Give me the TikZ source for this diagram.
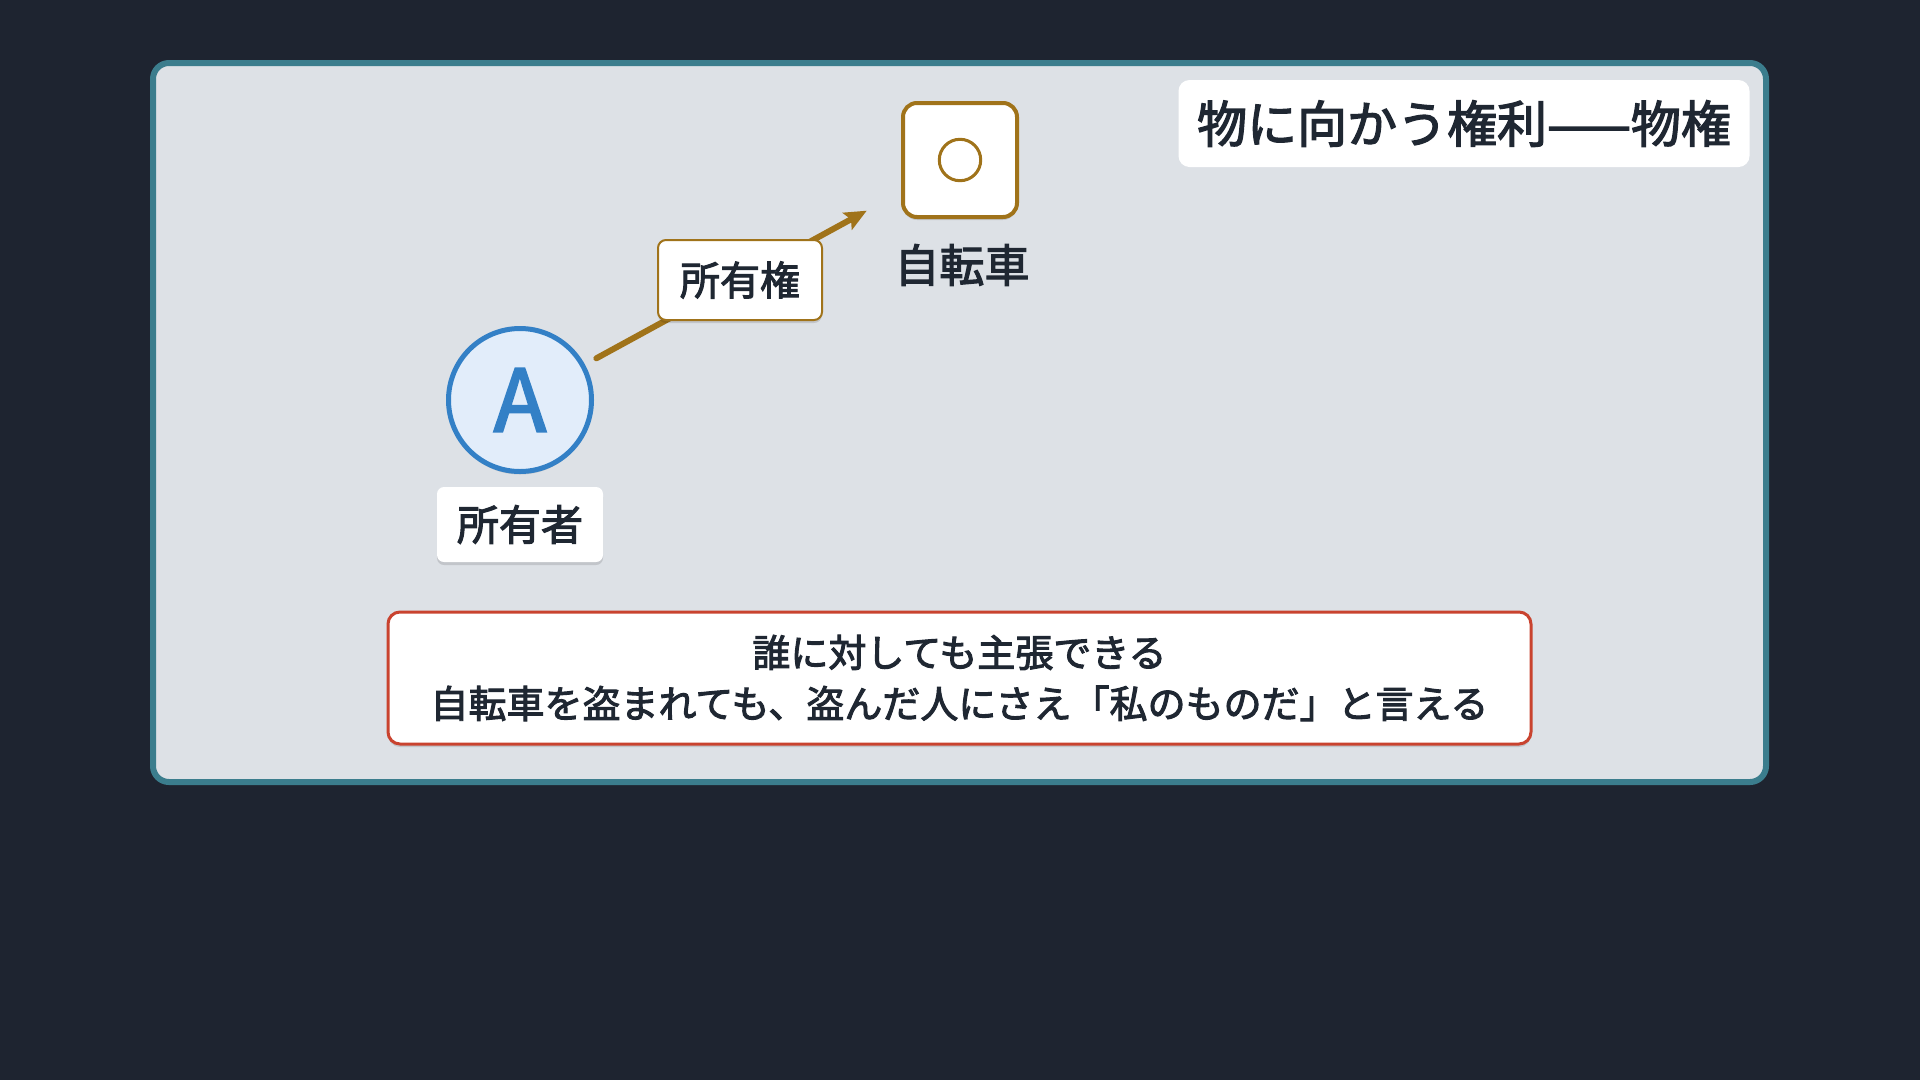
\documentclass[tikz,border=0pt]{standalone}
\usepackage{fontspec}
\setmainfont{Noto Sans CJK JP}[FakeBold=2.6]
\usetikzlibrary{arrows.meta,shadows,calc}
\definecolor{bgdark}{HTML}{1E2430}
\definecolor{panelfill}{HTML}{DDE1E6}
\definecolor{panelborder}{HTML}{3B7D8D}
\definecolor{txt}{HTML}{1F2732}
\definecolor{gold}{HTML}{A0731A}
\definecolor{blueA}{HTML}{3380C6}
\definecolor{bluefill}{HTML}{E2EDFA}
\definecolor{redb}{HTML}{C9432F}
\tikzset{
  softshadow/.style={drop shadow={shadow xshift=0pt,shadow yshift=-3pt,opacity=0.12,fill=black}},
  panel/.style={draw=panelborder,fill=panelfill,line width=6pt,rounded corners=16pt},
  ownercircle/.style={circle,draw=blueA,fill=bluefill,line width=5pt,minimum size=143pt,inner sep=0pt,
    text=blueA,font=\fontsize{86}{100}\selectfont,softshadow},
  bikebox/.style={rectangle,draw=gold,fill=white,line width=4pt,rounded corners=14pt,
    minimum width=114pt,minimum height=114pt,inner sep=0pt,text=gold,font=\fontsize{48}{56}\selectfont,softshadow},
  biketext/.style={text=txt,font=\fontsize{45}{54}\selectfont,inner sep=0pt},
  ownerlabel/.style={rectangle,fill=white,rounded corners=7pt,minimum width=166pt,minimum height=75pt,
    inner sep=0pt,text=txt,font=\fontsize{42}{50}\selectfont,softshadow},
  rightlabel/.style={rectangle,draw=gold,fill=white,line width=2pt,rounded corners=8pt,minimum width=164pt,
    minimum height=80pt,inner sep=0pt,text=txt,font=\fontsize{40}{48}\selectfont,softshadow},
  titlebox/.style={rectangle,fill=white,rounded corners=11pt,minimum width=571pt,minimum height=87pt,
    inner sep=0pt,text=txt,font=\fontsize{50}{60}\selectfont},
  notebox/.style={rectangle,draw=redb,fill=white,line width=3pt,rounded corners=12pt,minimum width=1143pt,
    minimum height=132pt,inner sep=0pt,align=center,text=txt,font=\fontsize{38}{51}\selectfont,softshadow},
  owns/.style={draw=gold,line width=6pt,line cap=round,-{Stealth[length=22pt,width=19pt,inset=4pt]},
    shorten <=13pt,shorten >=39pt}
}
\begin{document}
\begin{tikzpicture}[x=1pt,y=-1pt]
\useasboundingbox (0,0) rectangle (1920,1080);
\fill[bgdark] (0,0) rectangle (1920,1080);
\draw[panel] (153,63) rectangle (1766,782);
\node[ownercircle] (A) at (520,400) {A};
\node[bikebox] (B) at (960,160) {○};
\node[biketext] (Btext) at (962,265) {自転車};
\node[ownerlabel] (Alabel) at (520,524.5) {所有者};
\draw[owns] (A) -- (B);
\node[rightlabel] (R) at ($(A)!0.5!(B)$) {所有権};
\node[titlebox] (T) at (1464,123.5) {物に向かう権利——物権};
\node[notebox] (N) at (959.5,678) {誰に対しても主張できる\\自転車を盗まれても、盗んだ人にさえ「私のものだ」と言える};
\end{tikzpicture}
\end{document}
